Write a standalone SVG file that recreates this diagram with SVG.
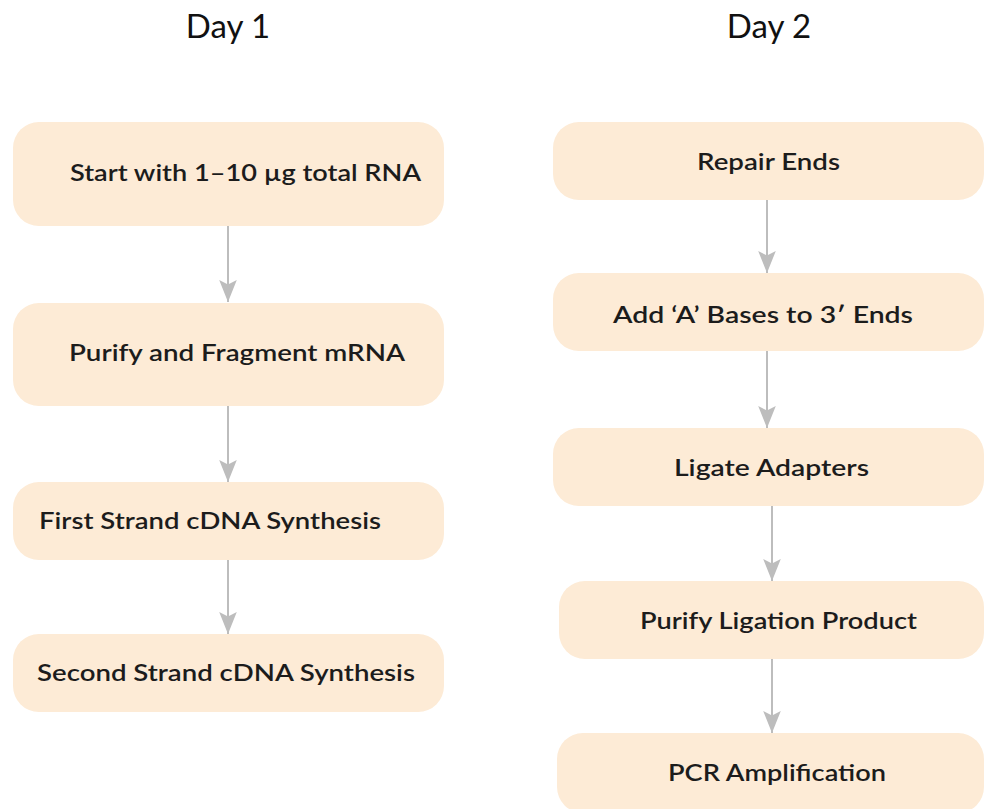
<svg xmlns="http://www.w3.org/2000/svg" width="984" height="809" viewBox="0 0 984 809">
<defs>
<style>
.box{fill:#fdebd6;}
.lbl{font-family:Lato,"Open Sans","Liberation Sans",sans-serif;font-size:23px;font-weight:600;fill:#1c1c1c;}
.day{font-family:Lato,"Open Sans","Liberation Sans",sans-serif;font-size:33px;font-weight:400;fill:#111;text-anchor:middle;}
.con{stroke:#bdbdbd;stroke-width:2;fill:none;marker-end:url(#ah);}
</style>
<marker id="ah" markerWidth="22" markerHeight="18" refX="20" refY="8" orient="auto" markerUnits="userSpaceOnUse" viewBox="0 0 20 16" overflow="visible">
<path d="M0,0 L4,8 L0,16 L20,8 Z" fill="#bdbdbd"/>
</marker>
</defs>
<rect width="984" height="809" fill="#fff"/>
<text class="day" x="228" y="38">Day 1</text>
<text class="day" x="769" y="38">Day 2</text>
<g id="n1"><rect class="box" x="13" y="122" width="431" height="104" rx="26"/><text class="lbl" x="70" y="181" textLength="351" lengthAdjust="spacingAndGlyphs">Start with 1–10 µg total RNA</text></g>
<g id="n2"><rect class="box" x="13" y="303" width="431" height="103" rx="26"/><text class="lbl" x="69" y="361" textLength="336" lengthAdjust="spacingAndGlyphs">Purify and Fragment mRNA</text></g>
<g id="n3"><rect class="box" x="13" y="482" width="431" height="78" rx="26"/><text class="lbl" x="39" y="529" textLength="342" lengthAdjust="spacingAndGlyphs">First Strand cDNA Synthesis</text></g>
<g id="n4"><rect class="box" x="13" y="634" width="431" height="78" rx="26"/><text class="lbl" x="37" y="681" textLength="378" lengthAdjust="spacingAndGlyphs">Second Strand cDNA Synthesis</text></g>
<g id="n5"><rect class="box" x="553" y="122" width="431" height="78" rx="26"/><text class="lbl" x="697" y="170" textLength="143" lengthAdjust="spacingAndGlyphs">Repair Ends</text></g>
<g id="n6"><rect class="box" x="553" y="273" width="431" height="78" rx="26"/><text class="lbl" x="613" y="323" textLength="300" lengthAdjust="spacingAndGlyphs">Add ‘A’ Bases to 3′ Ends</text></g>
<g id="n7"><rect class="box" x="553" y="428" width="431" height="78" rx="26"/><text class="lbl" x="674" y="476" textLength="195" lengthAdjust="spacingAndGlyphs">Ligate Adapters</text></g>
<g id="n8"><rect class="box" x="559" y="581" width="425" height="78" rx="26"/><text class="lbl" x="640" y="629" textLength="277" lengthAdjust="spacingAndGlyphs">Purify Ligation Product</text></g>
<g id="n9"><rect class="box" x="557" y="733" width="427" height="80" rx="26"/><text class="lbl" x="668" y="781" textLength="218" lengthAdjust="spacingAndGlyphs">PCR Amplification</text></g>
<g id="connectors">
<line class="con" x1="228" y1="226" x2="228" y2="302"/>
<line class="con" x1="228" y1="406" x2="228" y2="482"/>
<line class="con" x1="228" y1="560" x2="228" y2="634"/>
<line class="con" x1="767" y1="200" x2="767" y2="273"/>
<line class="con" x1="767" y1="351" x2="767" y2="428"/>
<line class="con" x1="772" y1="506" x2="772" y2="581"/>
<line class="con" x1="772" y1="659" x2="772" y2="733"/>
</g>
</svg>
